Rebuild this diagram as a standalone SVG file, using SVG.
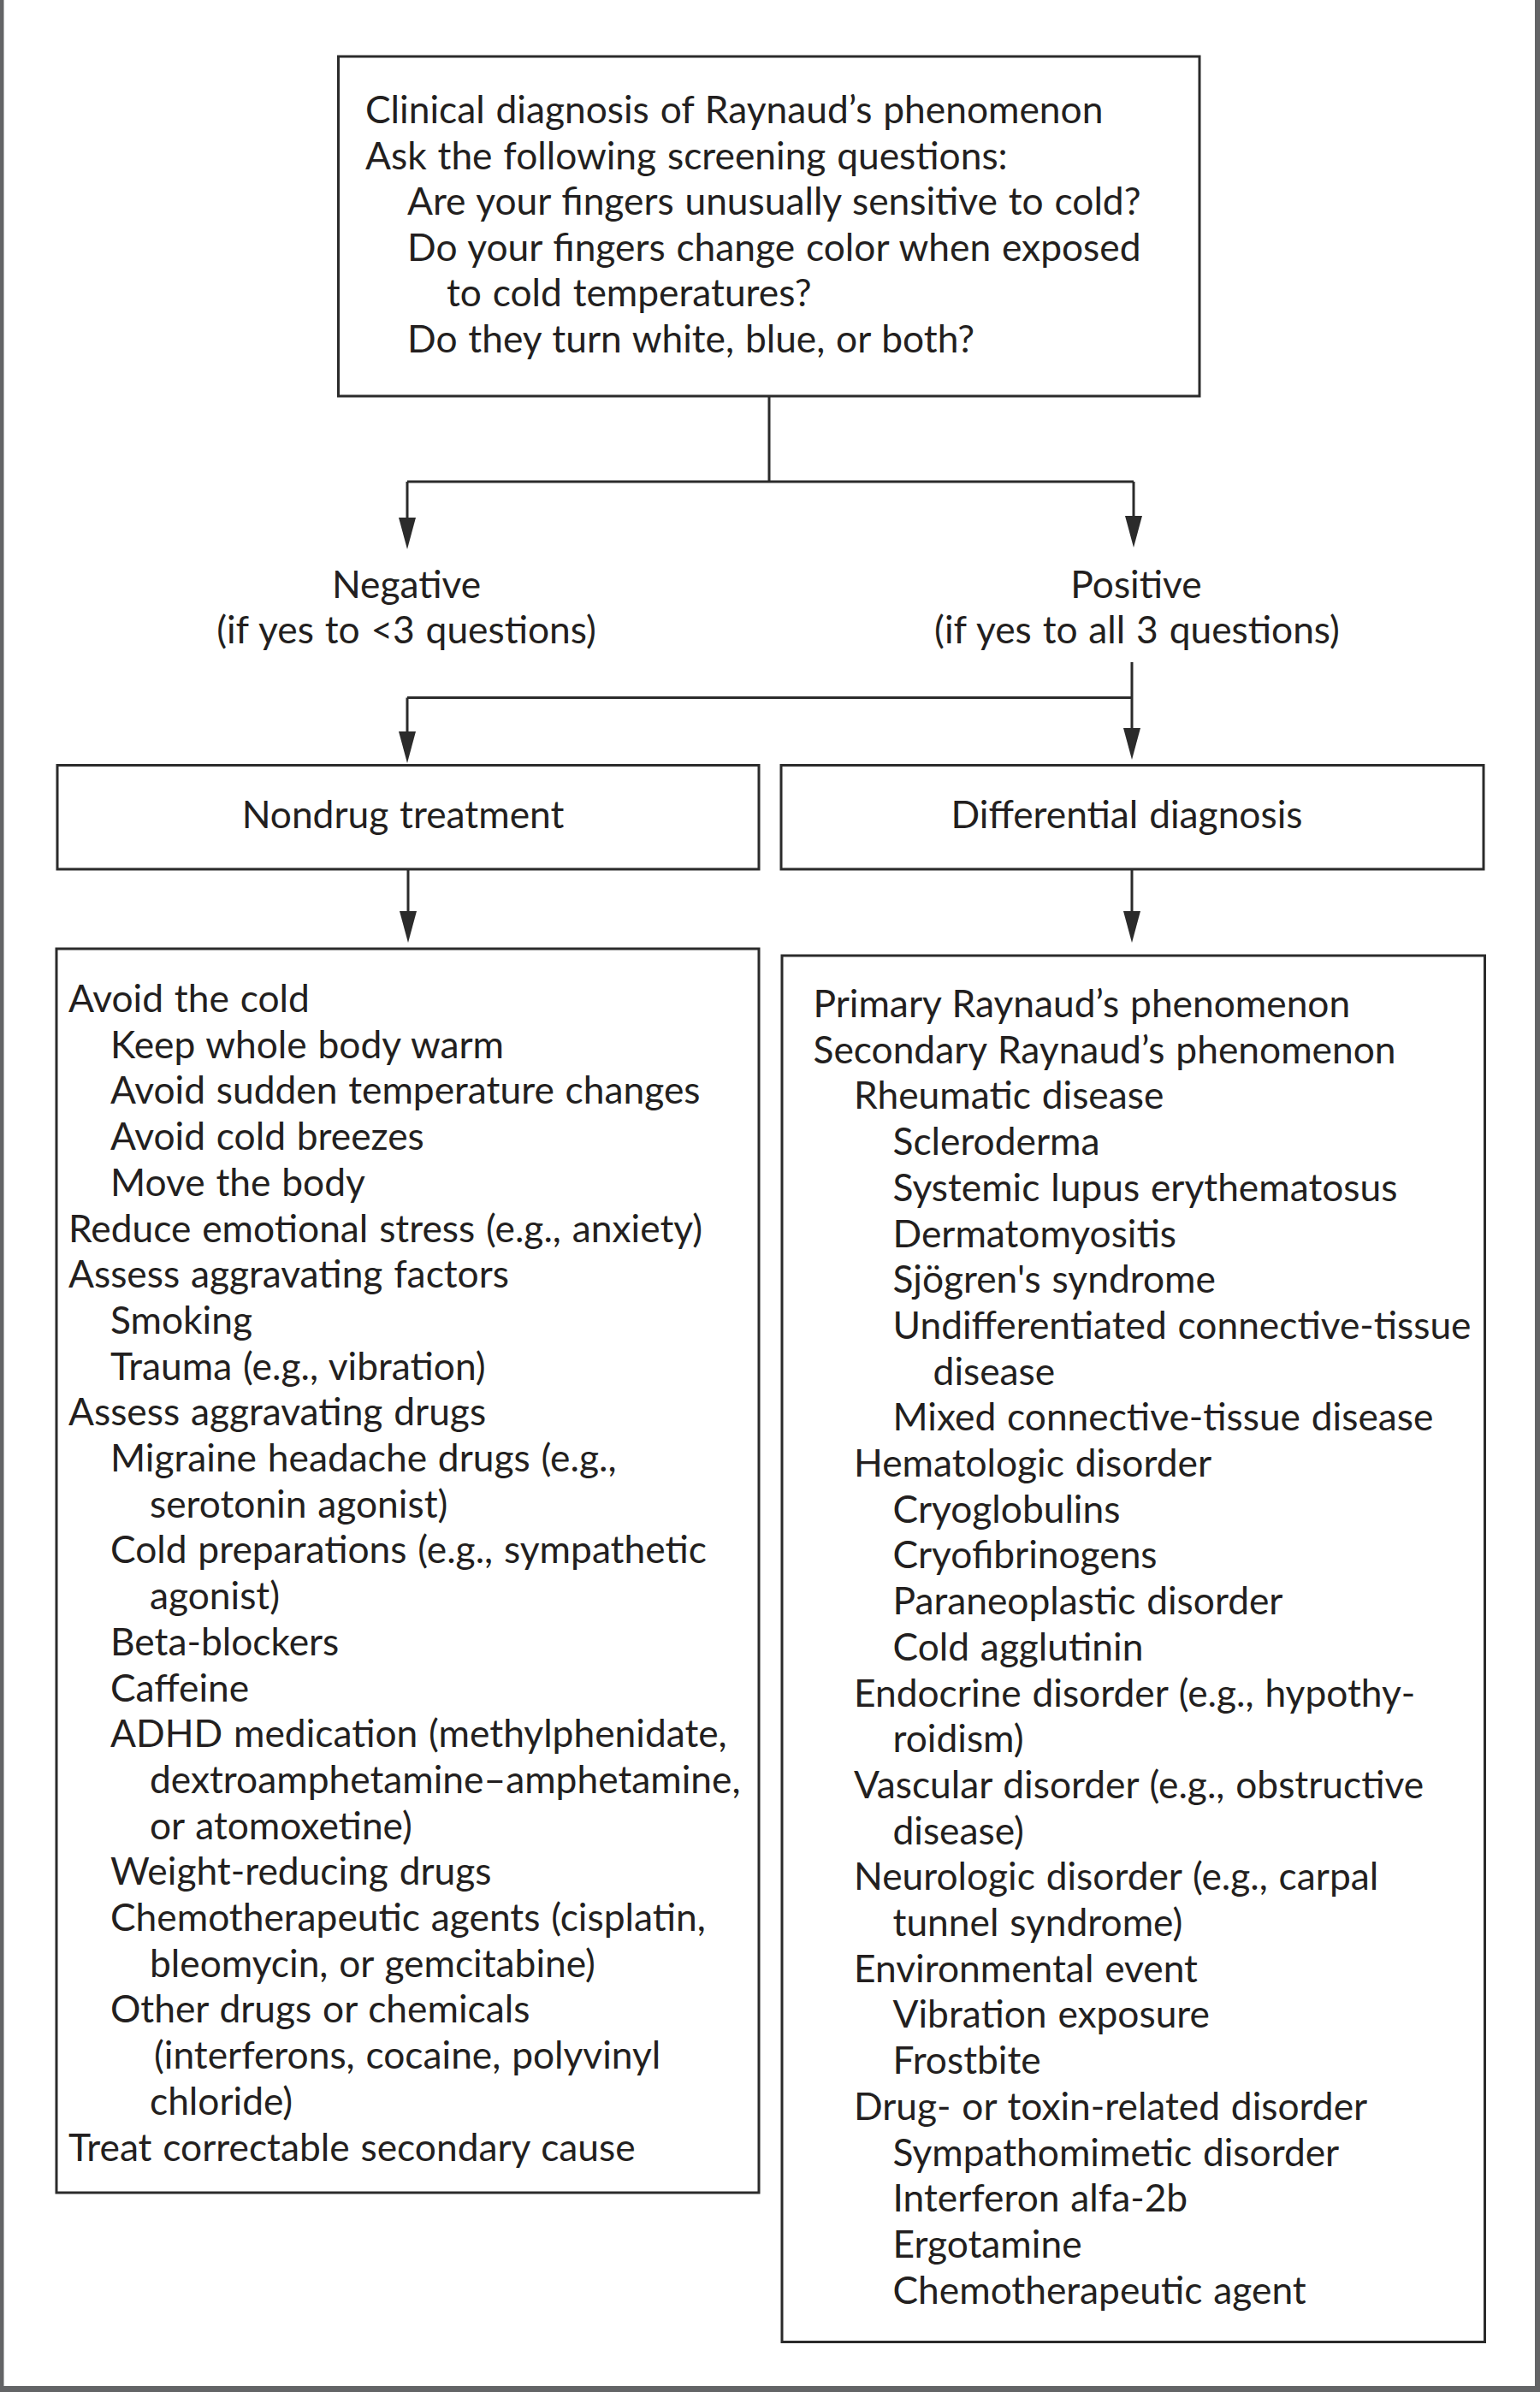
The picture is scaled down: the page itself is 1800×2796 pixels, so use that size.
<svg xmlns="http://www.w3.org/2000/svg" width="1800" height="2796" viewBox="0 0 1800 2796">
<defs>
<style>
.t{font-family:Lato,"Open Sans","Liberation Sans",sans-serif;font-size:44.3px;word-spacing:1.5px;fill:#231f20}
.m{text-anchor:middle}
.box{fill:#ffffff;stroke:#2b2b2b;stroke-width:3}
.c{fill:none;stroke:#2b2b2b;stroke-width:3}
.a{marker-end:url(#arrow)}
.frame{fill:#636466}
</style>
<marker id="arrow" markerUnits="userSpaceOnUse" viewBox="0 -10 37 20" refX="0" refY="0" markerWidth="37" markerHeight="20" orient="auto">
<path d="M0,-10 L37,0 L0,10 Z" fill="#2b2b2b"/>
</marker>
</defs>
<rect x="0" y="0" width="1800" height="2796" fill="#ffffff"/>
<g id="frame">
<rect class="frame" x="0" y="0" width="4.5" height="2796"/>
<rect class="frame" x="1794" y="0" width="6" height="2796"/>
<rect class="frame" x="0" y="2789" width="1800" height="7"/>
</g>
<g id="connectors">
<path class="c" d="M899,464 V563"/>
<path class="c" d="M476,563 H1325"/>
<path class="c a" d="M476,563 V605"/>
<path class="c a" d="M1325,563 V603"/>
<path class="c" d="M476,815.5 H1323"/>
<path class="c a" d="M1323,774 V851"/>
<path class="c a" d="M476,815.5 V855"/>
<path class="c a" d="M477,1016 V1065"/>
<path class="c a" d="M1323,1016 V1065"/>
</g>
<g id="screening">
<rect class="box" x="395.5" y="66" width="1006.5" height="397"/>
<text class="t" x="427" y="144">Clinical diagnosis of Raynaud’s phenomenon</text>
<text class="t" x="427" y="197.5">Ask the following screening questions:</text>
<text class="t" x="476" y="251">Are your fingers unusually sensitive to cold?</text>
<text class="t" x="476" y="304.5">Do your fingers change color when exposed</text>
<text class="t" x="522" y="358">to cold temperatures?</text>
<text class="t" x="476" y="411.5">Do they turn white, blue, or both?</text>
</g>
<g id="negative">
<text class="t m" x="475" y="699">Negative</text>
<text class="t m" x="475" y="752">(if yes to &lt;3 questions)</text>
</g>
<g id="positive">
<text class="t m" x="1328" y="699">Positive</text>
<text class="t m" x="1329" y="752">(if yes to all 3 questions)</text>
</g>
<g id="nondrug">
<rect class="box" x="67" y="894.5" width="820" height="121.5"/>
<text class="t m" x="471" y="968">Nondrug treatment</text>
</g>
<g id="differential">
<rect class="box" x="913" y="894.5" width="821" height="121.5"/>
<text class="t m" x="1317" y="968">Differential diagnosis</text>
</g>
<g id="nondrug-list">
<rect class="box" x="66" y="1109" width="821" height="1454"/>
<text class="t" x="80" y="1183">Avoid the cold</text>
<text class="t" x="129" y="1236.7">Keep whole body warm</text>
<text class="t" x="129" y="1290.4">Avoid sudden temperature changes</text>
<text class="t" x="129" y="1344.1">Avoid cold breezes</text>
<text class="t" x="129" y="1397.8">Move the body</text>
<text class="t" x="80" y="1451.5">Reduce emotional stress (e.g., anxiety)</text>
<text class="t" x="80" y="1505.2">Assess aggravating factors</text>
<text class="t" x="129" y="1558.9">Smoking</text>
<text class="t" x="129" y="1612.6">Trauma (e.g., vibration)</text>
<text class="t" x="80" y="1666.3">Assess aggravating drugs</text>
<text class="t" x="129" y="1720">Migraine headache drugs (e.g.,</text>
<text class="t" x="175" y="1773.7">serotonin agonist)</text>
<text class="t" x="129" y="1827.4">Cold preparations (e.g., sympathetic</text>
<text class="t" x="175" y="1881.1">agonist)</text>
<text class="t" x="129" y="1934.8">Beta-blockers</text>
<text class="t" x="129" y="1988.5">Caffeine</text>
<text class="t" x="129" y="2042.2">ADHD medication (methylphenidate,</text>
<text class="t" x="175" y="2095.9">dextroamphetamine–amphetamine,</text>
<text class="t" x="175" y="2149.6">or atomoxetine)</text>
<text class="t" x="129" y="2203.3">Weight-reducing drugs</text>
<text class="t" x="129" y="2257">Chemotherapeutic agents (cisplatin,</text>
<text class="t" x="175" y="2310.7">bleomycin, or gemcitabine)</text>
<text class="t" x="129" y="2364.4">Other drugs or chemicals</text>
<text class="t" x="180" y="2418.1">(interferons, cocaine, polyvinyl</text>
<text class="t" x="175" y="2471.8">chloride)</text>
<text class="t" x="80" y="2525.5">Treat correctable secondary cause</text>
</g>
<g id="differential-list">
<rect class="box" x="914" y="1117" width="821.5" height="1620.5"/>
<text class="t" x="950.5" y="1189">Primary Raynaud’s phenomenon</text>
<text class="t" x="950.5" y="1242.7">Secondary Raynaud’s phenomenon</text>
<text class="t" x="998" y="1296.4">Rheumatic disease</text>
<text class="t" x="1043.5" y="1350.1">Scleroderma</text>
<text class="t" x="1043.5" y="1403.8">Systemic lupus erythematosus</text>
<text class="t" x="1043.5" y="1457.5">Dermatomyositis</text>
<text class="t" x="1043.5" y="1511.2">Sjögren's syndrome</text>
<text class="t" x="1043.5" y="1564.9">Undifferentiated connective-tissue</text>
<text class="t" x="1090.6" y="1618.6">disease</text>
<text class="t" x="1043.5" y="1672.3">Mixed connective-tissue disease</text>
<text class="t" x="998" y="1726">Hematologic disorder</text>
<text class="t" x="1043.5" y="1779.7">Cryoglobulins</text>
<text class="t" x="1043.5" y="1833.4">Cryofibrinogens</text>
<text class="t" x="1043.5" y="1887.1">Paraneoplastic disorder</text>
<text class="t" x="1043.5" y="1940.8">Cold agglutinin</text>
<text class="t" x="998" y="1994.5">Endocrine disorder (e.g., hypothy-</text>
<text class="t" x="1043.5" y="2048.2">roidism)</text>
<text class="t" x="998" y="2101.9">Vascular disorder (e.g., obstructive</text>
<text class="t" x="1043.5" y="2155.6">disease)</text>
<text class="t" x="998" y="2209.3">Neurologic disorder (e.g., carpal</text>
<text class="t" x="1043.5" y="2263">tunnel syndrome)</text>
<text class="t" x="998" y="2316.7">Environmental event</text>
<text class="t" x="1043.5" y="2370.4">Vibration exposure</text>
<text class="t" x="1043.5" y="2424.1">Frostbite</text>
<text class="t" x="998" y="2477.8">Drug- or toxin-related disorder</text>
<text class="t" x="1043.5" y="2531.5">Sympathomimetic disorder</text>
<text class="t" x="1043.5" y="2585.2">Interferon alfa-2b</text>
<text class="t" x="1043.5" y="2638.9">Ergotamine</text>
<text class="t" x="1043.5" y="2692.6">Chemotherapeutic agent</text>
</g>
</svg>
